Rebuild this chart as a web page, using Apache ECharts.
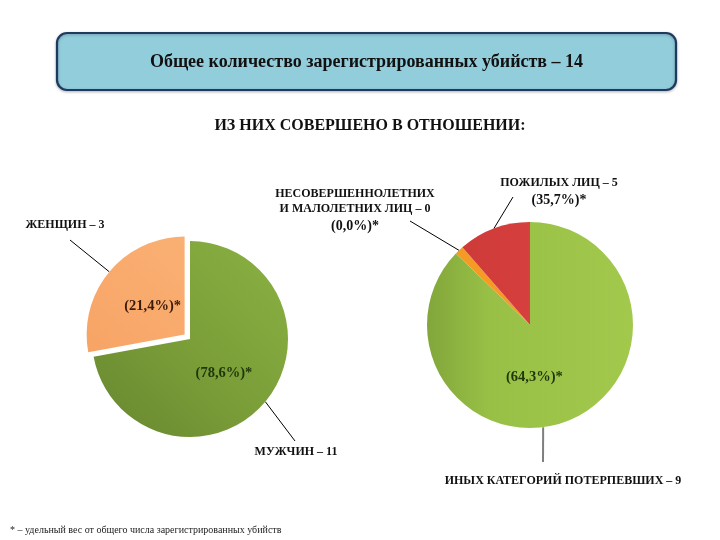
<!DOCTYPE html>
<html>
<head>
<meta charset="utf-8">
<script src="https://cdn.jsdelivr.net/npm/echarts@6/dist/echarts.min.js"></script>
<style>
html,body{margin:0;padding:0;background:#fff;}
#chart{width:720px;height:540px;}
</style>
</head>
<body>
<div id="chart"></div>
<script>
// ---- Data ----
var titleText = 'Общее количество зарегистрированных убийств – 14';
var subtitleText = 'ИЗ НИХ СОВЕРШЕНО В ОТНОШЕНИИ:';
var footnoteText = '* – удельный вес от общего числа зарегистрированных убийств';

var leftCategories = ['МУЖЧИН', 'ЖЕНЩИН'];
var leftCounts = [11, 3];
var leftPercents = ['78,6', '21,4'];
var leftSliceShares = [72.1, 27.9];   // slice sizes as drawn in the picture

var rightCategories = ['ИНЫХ КАТЕГОРИЙ ПОТЕРПЕВШИХ', 'НЕСОВЕРШЕННОЛЕТНИХ\nИ МАЛОЛЕТНИХ ЛИЦ', 'ПОЖИЛЫХ ЛИЦ'];
var rightCounts = [9, 0, 5];
var rightPercents = ['64,3', '0,0', '35,7'];
var rightSliceShares = [87.2, 1.4, 11.4]; // slice sizes as drawn in the picture

// ---- Layout / styles ----
var FONT = '"Liberation Serif", "DejaVu Serif", serif';
function grad(x, y, x2, y2, stops) {
  return {type: 'linear', x: x, y: y, x2: x2, y2: y2,
    colorStops: stops.map(function (s) { return {offset: s[0], color: s[1]}; })};
}
var leftColors = [
  grad(0, 1, 1, 0, [[0, '#67862f'], [0.45, '#7a9d38'], [1, '#8ab243']]),
  grad(0, 1, 1, 0, [[0, '#f7a466'], [1, '#fab073']])
];
var rightColors = [
  grad(0, 0, 1, 0, [[0, '#82a63b'], [0.3, '#98c046'], [1, '#a2c94c']]),
  '#f59a25',
  grad(0, 0, 1, 0, [[0, '#cd3a38'], [1, '#d6403e']])
];
var innerColors = {left: ['#1f360a', '#3a1a08'], right: ['#1f360a', '#111', '#111']};

var leftPie = {center: [190, 339], r: 98, explode: [false, true], offset: 7};
var rightPie = {center: [530, 325], r: 103, explode: [false, false, false], offset: 0};

// label placement (centre of the text block), leader end point, and where on the slice the leader starts (fraction of slice)
var leftLabels = [
  {x: 296, y: 452, end: [295, 441], frac: 0.5, line: '#000', w: 1},
  {x: 65, y: 225, end: [70, 240], frac: 0.5, line: '#000', w: 1}
];
var rightLabels = [
  {x: 563, y: 481, end: [543, 462], frac: 0.55, line: '#7f7f7f', w: 2},
  {x: 355, y: 212, end: [410, 221], frac: 0.5, line: '#000', w: 1},
  {x: 559, y: 193, end: [513, 197], frac: 0.5, line: '#000', w: 1}
];
var innerShift = {left: [[-6, 1], [8, 5]], right: [[-17, 2], [0, 0], [0, 0]]};

var richOut = {
  n: {fontFamily: FONT, fontWeight: 'bold', fontSize: 12, color: '#111', lineHeight: 14.5, align: 'center'},
  p: {fontFamily: FONT, fontWeight: 'bold', fontSize: 14, color: '#111', lineHeight: 21, align: 'center'}
};

function sliceAngles(shares, i) {
  var tot = shares.reduce(function (a, b) { return a + b; }, 0), cum = 0;
  for (var k = 0; k < i; k++) cum += shares[k];
  return [cum / tot * 2 * Math.PI, (cum + shares[i]) / tot * 2 * Math.PI];
}
function sliceCenter(pie, shares, i) {
  if (!pie.explode[i]) return pie.center.slice();
  var a = sliceAngles(shares, i), m = (a[0] + a[1]) / 2;
  return [pie.center[0] + pie.offset * Math.sin(m), pie.center[1] - pie.offset * Math.cos(m)];
}
function arcPoint(pie, shares, i, frac) {
  var a = sliceAngles(shares, i), t = a[0] + (a[1] - a[0]) * frac, c = sliceCenter(pie, shares, i);
  return [c[0] + pie.r * Math.sin(t), c[1] - pie.r * Math.cos(t)];
}

function outerText(cats, counts, percents, i, withPct) {
  var lines = cats[i].split('\n');
  lines[lines.length - 1] += ' – ' + counts[i];
  var txt = lines.map(function (l) { return '{n|' + l + '}'; }).join('\n');
  if (withPct) txt += '\n{p|(' + percents[i] + '%)*}';
  return txt;
}

var series = [];
function addPie(pie, cats, counts, percents, shares, colors, withPct, labels, side) {
  shares.forEach(function (v, i) {
    var c = sliceCenter(pie, shares, i);
    var start = arcPoint(pie, shares, i, labels[i].frac);
    // visible slice with outside label and leader
    series.push({
      type: 'pie', center: c, radius: [0, pie.r], startAngle: 90, clockwise: true,
      avoidLabelOverlap: false, silent: true, emphasis: {disabled: true},
      data: shares.map(function (s, j) {
        return {value: s, name: cats[j],
          itemStyle: {color: j === i ? colors[j] : 'rgba(0,0,0,0)'},
          label: {show: j === i, formatter: outerText(cats, counts, percents, j, withPct[j])},
          labelLine: {show: j === i, lineStyle: {color: labels[j].line, width: labels[j].w}}};
      }),
      label: {position: 'outside', rich: richOut},
      labelLine: {smooth: false},
      labelLayout: function (p) {
        if (p.dataIndex !== i) return {};
        var L = labels[i];
        return {x: L.x, y: L.y, align: 'center', verticalAlign: 'middle',
          labelLinePoints: [start, start, L.end]};
      }
    });
    // overlay for the inside percentage label
    series.push({
      type: 'pie', center: c, radius: [0, pie.r], startAngle: 90, clockwise: true, z: 3,
      avoidLabelOverlap: false, silent: true, emphasis: {disabled: true},
      data: shares.map(function (s, j) {
        return {value: s, itemStyle: {color: 'rgba(0,0,0,0)'},
          label: {show: j === i && !withPct[j], formatter: '(' + percents[j] + '%)*', color: innerColors[side][j]}};
      }),
      label: {position: 'inside', fontFamily: FONT, fontWeight: 'bold', fontSize: 14.5},
      labelLine: {show: false},
      labelLayout: function (p) {
        var d = innerShift[side][p.dataIndex];
        return {dx: d[0], dy: d[1]};
      }
    });
  });
}
addPie(leftPie, leftCategories, leftCounts, leftPercents, leftSliceShares, leftColors, [false, false], leftLabels, 'left');
addPie(rightPie, rightCategories, rightCounts, rightPercents, rightSliceShares, rightColors, [false, true, true], rightLabels, 'right');

var chart = echarts.init(document.getElementById('chart'), null, {renderer: 'canvas'});
chart.setOption({
  backgroundColor: '#ffffff',
  animation: false,
  graphic: [
    {type: 'rect', shape: {x: 57, y: 33, width: 619, height: 57, r: 10},
      style: {fill: '#92cddc', stroke: '#1f3a5f', lineWidth: 2.2, shadowBlur: 3, shadowColor: 'rgba(0,0,0,0.25)', shadowOffsetY: 1}},
    {type: 'text', x: 366.5, y: 62,
      style: {text: titleText, font: 'bold 18px ' + FONT, fill: '#111', align: 'center', verticalAlign: 'middle'}},
    {type: 'text', x: 370, y: 126,
      style: {text: subtitleText, font: 'bold 16px ' + FONT, fill: '#111', align: 'center', verticalAlign: 'middle'}},
    {type: 'text', left: 10, top: 525,
      style: {text: footnoteText, font: '10px ' + FONT, fill: '#222'}}
  ],
  series: series
});
</script>
</body>
</html>
